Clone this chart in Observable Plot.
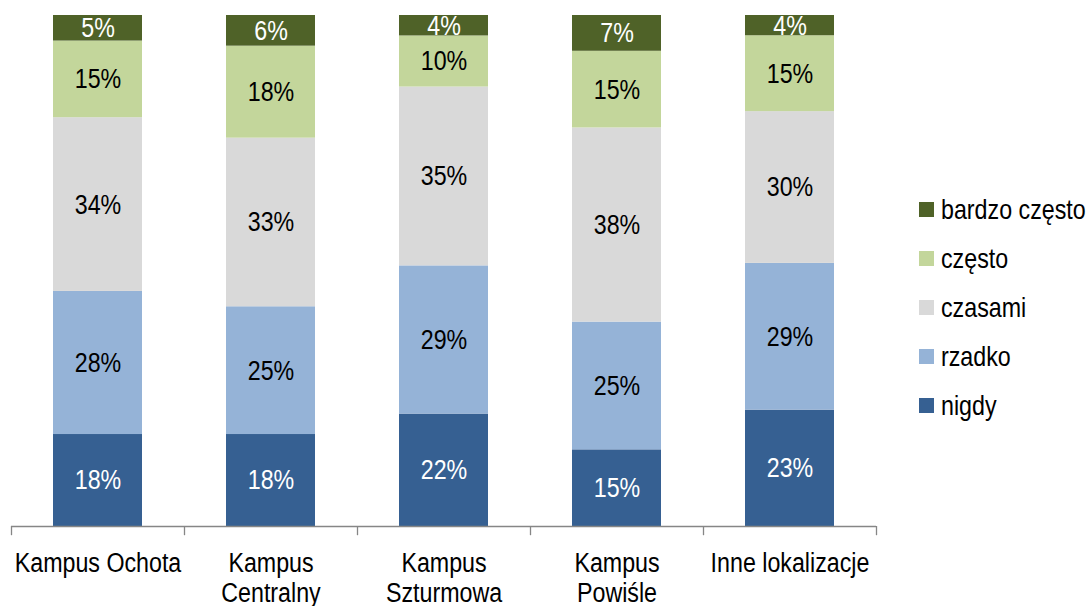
<!DOCTYPE html>
<html>
<head>
<meta charset="utf-8">
<script src="https://cdn.jsdelivr.net/npm/d3@7"></script>
<script src="https://cdn.jsdelivr.net/npm/@observablehq/plot@0.6"></script>
<style>
  html, body { margin: 0; padding: 0; background: #fff; }
  #wrap { position: relative; width: 1092px; height: 606px; font-family: "Liberation Sans", Arial, sans-serif; }
  #legend { position: absolute; left: 919px; top: 185px; font-size: 28px; color: #000; white-space: nowrap; }
  .row { display: flex; align-items: center; height: 49px; }
  .sw { width: 15px; height: 15px; margin-right: 7px; flex: none; }
  .lt { display: inline-block; transform: scaleX(0.83); transform-origin: left center; }
</style>
</head>
<body>
<div id="wrap"></div>
<script>
const categories = ["Kampus Ochota", "Kampus\nCentralny", "Kampus\nSzturmowa", "Kampus\nPowiśle", "Inne lokalizacje"];
const series = ["nigdy", "rzadko", "czasami", "często", "bardzo często"];
const nigdy = [18, 18, 22, 15, 23];
const rzadko = [28, 25, 29, 25, 29];
const czasami = [34, 33, 35, 38, 30];
const czesto = [15, 18, 10, 15, 15];
const bardzoCzesto = [5, 6, 4, 7, 4];
const colors = ["#366092", "#95B3D7", "#D9D9D9", "#C3D69B", "#4F6228"];
const labelColors = ["#ffffff", "#000000", "#000000", "#000000", "#ffffff"];

const values = [nigdy, rzadko, czasami, czesto, bardzoCzesto];
const data = series.flatMap((s, i) => categories.map((c, j) => ({cat: c, series: s, value: values[i][j], lc: labelColors[i]})));

const W = 1092, H = 606, mL = 11, mR = 216, mT = 15, mB = 80;
const step = (W - mL - mR) / categories.length;
const fontFamily = '"Liberation Sans", Arial, sans-serif';
const narrow = 0.83;

const chart = Plot.plot({
  width: W, height: H,
  marginLeft: mL, marginRight: mR, marginTop: mT, marginBottom: mB,
  style: {fontFamily, fontSize: "28px", color: "#000", background: "#fff"},
  x: {domain: categories, paddingInner: 0.486, paddingOuter: 0.243, label: null},
  y: {domain: [0, 1], axis: null},
  color: {domain: series, range: colors},
  marks: [
    Plot.barY(data, Plot.stackY({offset: "normalize"}, {x: "cat", y: "value", fill: "series"})),
    Plot.text(data, Plot.stackY({offset: "normalize"}, {x: "cat", y: "value", text: d => d.value + "%", fill: d => d.lc, fontSize: 28})),
    Plot.ruleY([0], {stroke: "#868686", strokeWidth: 1.3}),
    Plot.ruleX(categories, {x: d => d, y1: 0, y2: -0.018, dx: -step / 2, stroke: "#868686", strokeWidth: 1.3}),
    Plot.ruleX(categories.slice(-1), {x: d => d, y1: 0, y2: -0.018, dx: step / 2, stroke: "#868686", strokeWidth: 1.3}),
    Plot.axisX({tickSize: 0, tickPadding: 24, fontSize: 28, lineHeight: 1.07, fill: "#000"})
  ]
});

// condense glyphs horizontally to imitate a narrow typeface
d3.select(chart).selectAll("text").each(function() {
  const t = this.getAttribute("transform");
  this.setAttribute("transform", (t ? t + " " : "") + `scale(${narrow},1)`);
});

const wrap = document.getElementById("wrap");
wrap.appendChild(chart);
const legend = document.createElement("div");
legend.id = "legend";
for (let i = series.length - 1; i >= 0; i--) {
  const row = document.createElement("div");
  row.className = "row";
  const sw = document.createElement("div");
  sw.className = "sw";
  sw.style.background = colors[i];
  const t = document.createElement("span");
  t.className = "lt";
  t.textContent = series[i];
  row.appendChild(sw);
  row.appendChild(t);
  legend.appendChild(row);
}
wrap.appendChild(legend);
</script>
</body>
</html>
